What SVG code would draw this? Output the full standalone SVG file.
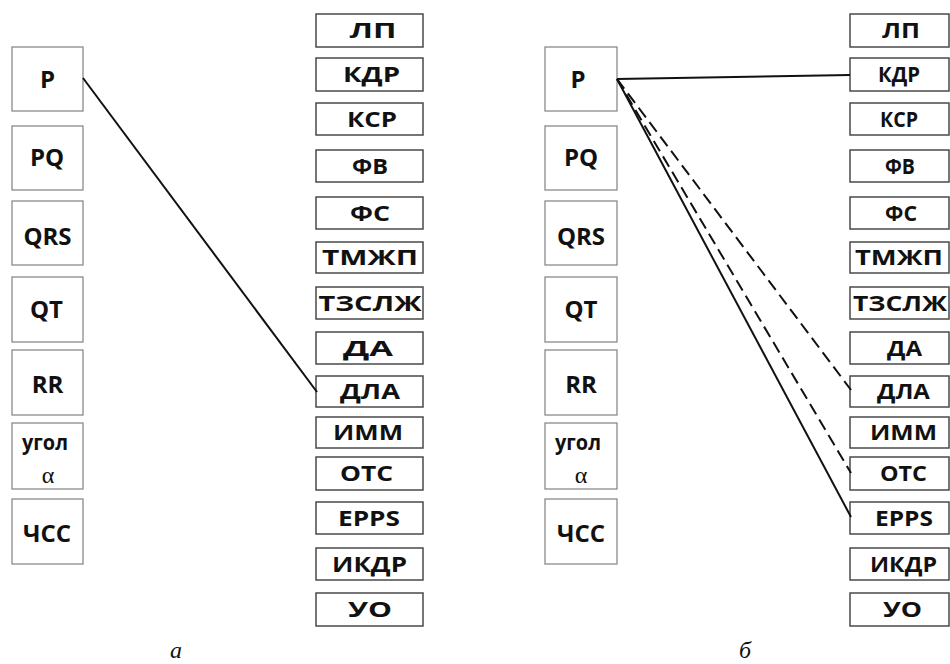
<svg xmlns="http://www.w3.org/2000/svg" width="950" height="664" viewBox="0 0 950 664">
  <style>
    .bg { fill: #ffffff; }
    .lbox { fill: #ffffff; stroke: #8a8a8a; stroke-width: 1.3; }
    .rbox { fill: #ffffff; stroke: #4a4a4a; stroke-width: 1.5; }
    .lt { font-family: "Open Sans", "Noto Sans", "DejaVu Sans", sans-serif; font-weight: 700; font-size: 24px; fill: #111; text-anchor: middle; }
    .lt-small { font-size: 22px; }
    .rt { font-family: "Open Sans", "Noto Sans", "DejaVu Sans", sans-serif; font-weight: 700; font-size: 22px; fill: #111; text-anchor: middle; }
    .alpha { font-family: "Liberation Serif", "DejaVu Serif", serif; font-size: 24px; fill: #111; text-anchor: middle; }
    .cap { font-family: "Liberation Serif", "DejaVu Serif", serif; font-style: italic; font-size: 24px; fill: #111; text-anchor: middle; }
    .link { stroke: #111; stroke-width: 2; fill: none; }
    .dash { stroke-dasharray: 12 6; }
  </style>
  <rect class="bg" x="0" y="0" width="950" height="664"/>

  <!-- panel а: ECG parameters -->
  <g id="a-P"><rect class="lbox" x="12" y="47" width="71" height="64"/><text class="lt" x="47.5" y="88">P</text></g>
  <g id="a-PQ"><rect class="lbox" x="12" y="126" width="71" height="64"/><text class="lt" x="47" y="166">PQ</text></g>
  <g id="a-QRS"><rect class="lbox" x="12" y="201" width="71" height="64"/><text class="lt" x="47.5" y="245">QRS</text></g>
  <g id="a-QT"><rect class="lbox" x="12" y="277" width="71" height="65"/><text class="lt" x="46.5" y="318">QT</text></g>
  <g id="a-RR"><rect class="lbox" x="12" y="350" width="71" height="65"/><text class="lt" x="47.5" y="393">RR</text></g>
  <g id="a-angle"><rect class="lbox" x="12" y="423" width="71" height="66"/><text class="lt lt-small" x="45" y="450" textLength="46" lengthAdjust="spacingAndGlyphs">угол</text><text class="alpha" x="48" y="483">α</text></g>
  <g id="a-HR"><rect class="lbox" x="12" y="499" width="71" height="65"/><text class="lt" x="47" y="542">ЧСС</text></g>

  <!-- panel а: echo parameters -->
  <g id="a-LP"><rect class="rbox" x="316" y="14" width="107" height="33"/><text class="rt" x="373" y="38" textLength="47" lengthAdjust="spacingAndGlyphs">ЛП</text></g>
  <g id="a-KDR"><rect class="rbox" x="316" y="58" width="107" height="33"/><text class="rt" x="371.5" y="82" textLength="57" lengthAdjust="spacingAndGlyphs">КДР</text></g>
  <g id="a-KSR"><rect class="rbox" x="316" y="103" width="107" height="32"/><text class="rt" x="372" y="127" textLength="50" lengthAdjust="spacingAndGlyphs">КСР</text></g>
  <g id="a-FV"><rect class="rbox" x="316" y="150" width="107" height="32"/><text class="rt" x="370" y="174" textLength="36" lengthAdjust="spacingAndGlyphs">ФВ</text></g>
  <g id="a-FS"><rect class="rbox" x="316" y="197" width="107" height="32"/><text class="rt" x="370" y="221" textLength="40" lengthAdjust="spacingAndGlyphs">ФС</text></g>
  <g id="a-TMZhP"><rect class="rbox" x="316" y="242" width="107" height="31"/><text class="rt" x="370" y="265" textLength="96" lengthAdjust="spacingAndGlyphs">ТМЖП</text></g>
  <g id="a-TZSLZh"><rect class="rbox" x="316" y="287" width="107" height="32"/><text class="rt" x="370" y="311" textLength="103" lengthAdjust="spacingAndGlyphs">ТЗСЛЖ</text></g>
  <g id="a-DA"><rect class="rbox" x="316" y="332" width="107" height="32"/><text class="rt" x="368" y="356" textLength="50" lengthAdjust="spacingAndGlyphs">ДА</text></g>
  <g id="a-DLA"><rect class="rbox" x="316" y="376" width="107" height="31"/><text class="rt" x="370" y="399" textLength="60" lengthAdjust="spacingAndGlyphs">ДЛА</text></g>
  <g id="a-IMM"><rect class="rbox" x="316" y="417" width="107" height="31"/><text class="rt" x="368" y="440" textLength="70" lengthAdjust="spacingAndGlyphs">ИММ</text></g>
  <g id="a-OTS"><rect class="rbox" x="316" y="457" width="107" height="33"/><text class="rt" x="366.5" y="481" textLength="53" lengthAdjust="spacingAndGlyphs">ОТС</text></g>
  <g id="a-EPPS"><rect class="rbox" x="316" y="502" width="107" height="32"/><text class="rt" x="369" y="526" textLength="62" lengthAdjust="spacingAndGlyphs">EPPS</text></g>
  <g id="a-IKDR"><rect class="rbox" x="316" y="548" width="107" height="32"/><text class="rt" x="369.5" y="572" textLength="75" lengthAdjust="spacingAndGlyphs">ИКДР</text></g>
  <g id="a-UO"><rect class="rbox" x="316" y="593" width="107" height="33"/><text class="rt" x="370" y="617" textLength="44" lengthAdjust="spacingAndGlyphs">УО</text></g>

  <!-- panel б: ECG parameters -->
  <g id="b-P"><rect class="lbox" x="545" y="47" width="72" height="64"/><text class="lt" x="578" y="88">P</text></g>
  <g id="b-PQ"><rect class="lbox" x="545" y="126" width="72" height="64"/><text class="lt" x="581" y="166">PQ</text></g>
  <g id="b-QRS"><rect class="lbox" x="545" y="201" width="72" height="64"/><text class="lt" x="581" y="245">QRS</text></g>
  <g id="b-QT"><rect class="lbox" x="545" y="277" width="72" height="65"/><text class="lt" x="581" y="318">QT</text></g>
  <g id="b-RR"><rect class="lbox" x="545" y="350" width="72" height="65"/><text class="lt" x="581" y="393">RR</text></g>
  <g id="b-angle"><rect class="lbox" x="545" y="423" width="72" height="66"/><text class="lt lt-small" x="578" y="450" textLength="46" lengthAdjust="spacingAndGlyphs">угол</text><text class="alpha" x="581" y="483">α</text></g>
  <g id="b-HR"><rect class="lbox" x="545" y="499" width="72" height="65"/><text class="lt" x="581" y="542">ЧСС</text></g>

  <!-- panel б: echo parameters -->
  <g id="b-LP"><rect class="rbox" x="850" y="14" width="99" height="33"/><text class="rt" x="901" y="38" textLength="38" lengthAdjust="spacingAndGlyphs">ЛП</text></g>
  <g id="b-KDR"><rect class="rbox" x="850" y="58" width="99" height="33"/><text class="rt" x="899" y="82" textLength="42" lengthAdjust="spacingAndGlyphs">КДР</text></g>
  <g id="b-KSR"><rect class="rbox" x="850" y="103" width="99" height="32"/><text class="rt" x="899" y="127" textLength="38" lengthAdjust="spacingAndGlyphs">КСР</text></g>
  <g id="b-FV"><rect class="rbox" x="850" y="150" width="99" height="32"/><text class="rt" x="900" y="174" textLength="30" lengthAdjust="spacingAndGlyphs">ФВ</text></g>
  <g id="b-FS"><rect class="rbox" x="850" y="197" width="99" height="32"/><text class="rt" x="901" y="221" textLength="32" lengthAdjust="spacingAndGlyphs">ФС</text></g>
  <g id="b-TMZhP"><rect class="rbox" x="850" y="242" width="99" height="31"/><text class="rt" x="899" y="265" textLength="88" lengthAdjust="spacingAndGlyphs">ТМЖП</text></g>
  <g id="b-TZSLZh"><rect class="rbox" x="850" y="287" width="99" height="32"/><text class="rt" x="900" y="311" textLength="94" lengthAdjust="spacingAndGlyphs">ТЗСЛЖ</text></g>
  <g id="b-DA"><rect class="rbox" x="850" y="332" width="99" height="32"/><text class="rt" x="904.5" y="356" textLength="35" lengthAdjust="spacingAndGlyphs">ДА</text></g>
  <g id="b-DLA"><rect class="rbox" x="850" y="376" width="99" height="31"/><text class="rt" x="903.5" y="399" textLength="53" lengthAdjust="spacingAndGlyphs">ДЛА</text></g>
  <g id="b-IMM"><rect class="rbox" x="850" y="417" width="99" height="31"/><text class="rt" x="903.5" y="440" textLength="67" lengthAdjust="spacingAndGlyphs">ИММ</text></g>
  <g id="b-OTS"><rect class="rbox" x="850" y="457" width="99" height="33"/><text class="rt" x="903.5" y="481" textLength="47" lengthAdjust="spacingAndGlyphs">ОТС</text></g>
  <g id="b-EPPS"><rect class="rbox" x="850" y="502" width="99" height="32"/><text class="rt" x="904" y="526" textLength="58" lengthAdjust="spacingAndGlyphs">EPPS</text></g>
  <g id="b-IKDR"><rect class="rbox" x="850" y="548" width="99" height="32"/><text class="rt" x="903.5" y="572" textLength="67" lengthAdjust="spacingAndGlyphs">ИКДР</text></g>
  <g id="b-UO"><rect class="rbox" x="850" y="593" width="99" height="33"/><text class="rt" x="902.5" y="617" textLength="39" lengthAdjust="spacingAndGlyphs">УО</text></g>

  <!-- connectors -->
  <g id="connectors">
    <line class="link" x1="83" y1="78" x2="317" y2="392"/>
    <line class="link" x1="617" y1="79" x2="850" y2="75"/>
    <line class="link dash" x1="617" y1="79" x2="851" y2="390"/>
    <line class="link dash" x1="617" y1="79" x2="851" y2="473"/>
    <line class="link" x1="617" y1="79" x2="851" y2="517"/>
  </g>

  <!-- panel captions -->
  <text class="cap" x="176" y="658">а</text>
  <text class="cap" x="745" y="658">б</text>
</svg>
